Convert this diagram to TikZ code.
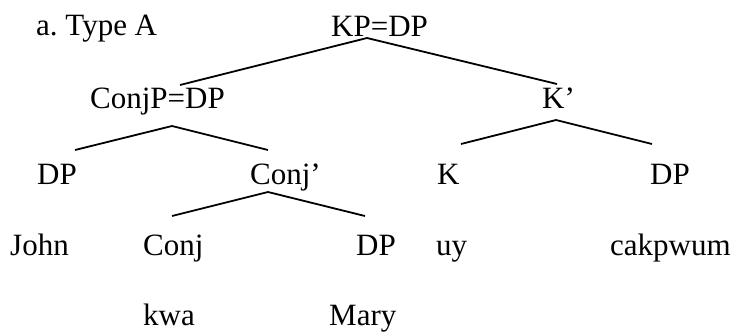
\documentclass[tikz,border=0pt]{standalone}
\usepackage{fontspec}
\setmainfont{Liberation Serif}

\begin{document}
\begin{tikzpicture}[x=1pt,y=-1pt,
  lbl/.style={anchor=base west,inner sep=0pt,font=\fontsize{31}{37}\selectfont},
  branch/.style={line width=1.8pt}]
\useasboundingbox (0,0) rectangle (738,335);
% labels
\node[lbl] (title) at (36,35) {a.\ Type A};
\node[lbl] (kp) at (331,36) {KP=DP};
\node[lbl] (conjp) at (90,108) {ConjP=DP};
\node[lbl] (kbar) at (542,108) {K'};
\node[lbl] (dp1) at (37,184) {DP};
\node[lbl] (conjbar) at (250,184) {Conj'};
\node[lbl] (k) at (437,184) {K};
\node[lbl] (dp2) at (650,184) {DP};
\node[lbl] (john) at (10,255) {John};
\node[lbl] (conj) at (143,255) {Conj};
\node[lbl] (dp3) at (356,255) {DP};
\node[lbl] (uy) at (436,255) {uy};
\node[lbl] (cakpwum) at (610,255) {cakpwum};
\node[lbl] (kwa) at (143,325) {kwa};
\node[lbl] (mary) at (329,325) {Mary};
% branch points
\coordinate (kp-b) at (367,38);
\coordinate (conjp-t) at (180,85);
\coordinate (kbar-t) at (557,84);
\coordinate (conjp-b) at (172,126);
\coordinate (dp1-t) at (75,150);
\coordinate (conjbar-t) at (268,150);
\coordinate (kbar-b) at (556,120);
\coordinate (k-t) at (461,144);
\coordinate (dp2-t) at (652,144);
\coordinate (conjbar-b) at (268,192);
\coordinate (conj-t) at (172,216);
\coordinate (dp3-t) at (365,216);
\draw[branch] (conjp-t) -- (kp-b) -- (kbar-t);
\draw[branch] (dp1-t) -- (conjp-b) -- (conjbar-t);
\draw[branch] (k-t) -- (kbar-b) -- (dp2-t);
\draw[branch] (conj-t) -- (conjbar-b) -- (dp3-t);
\end{tikzpicture}
\end{document}
